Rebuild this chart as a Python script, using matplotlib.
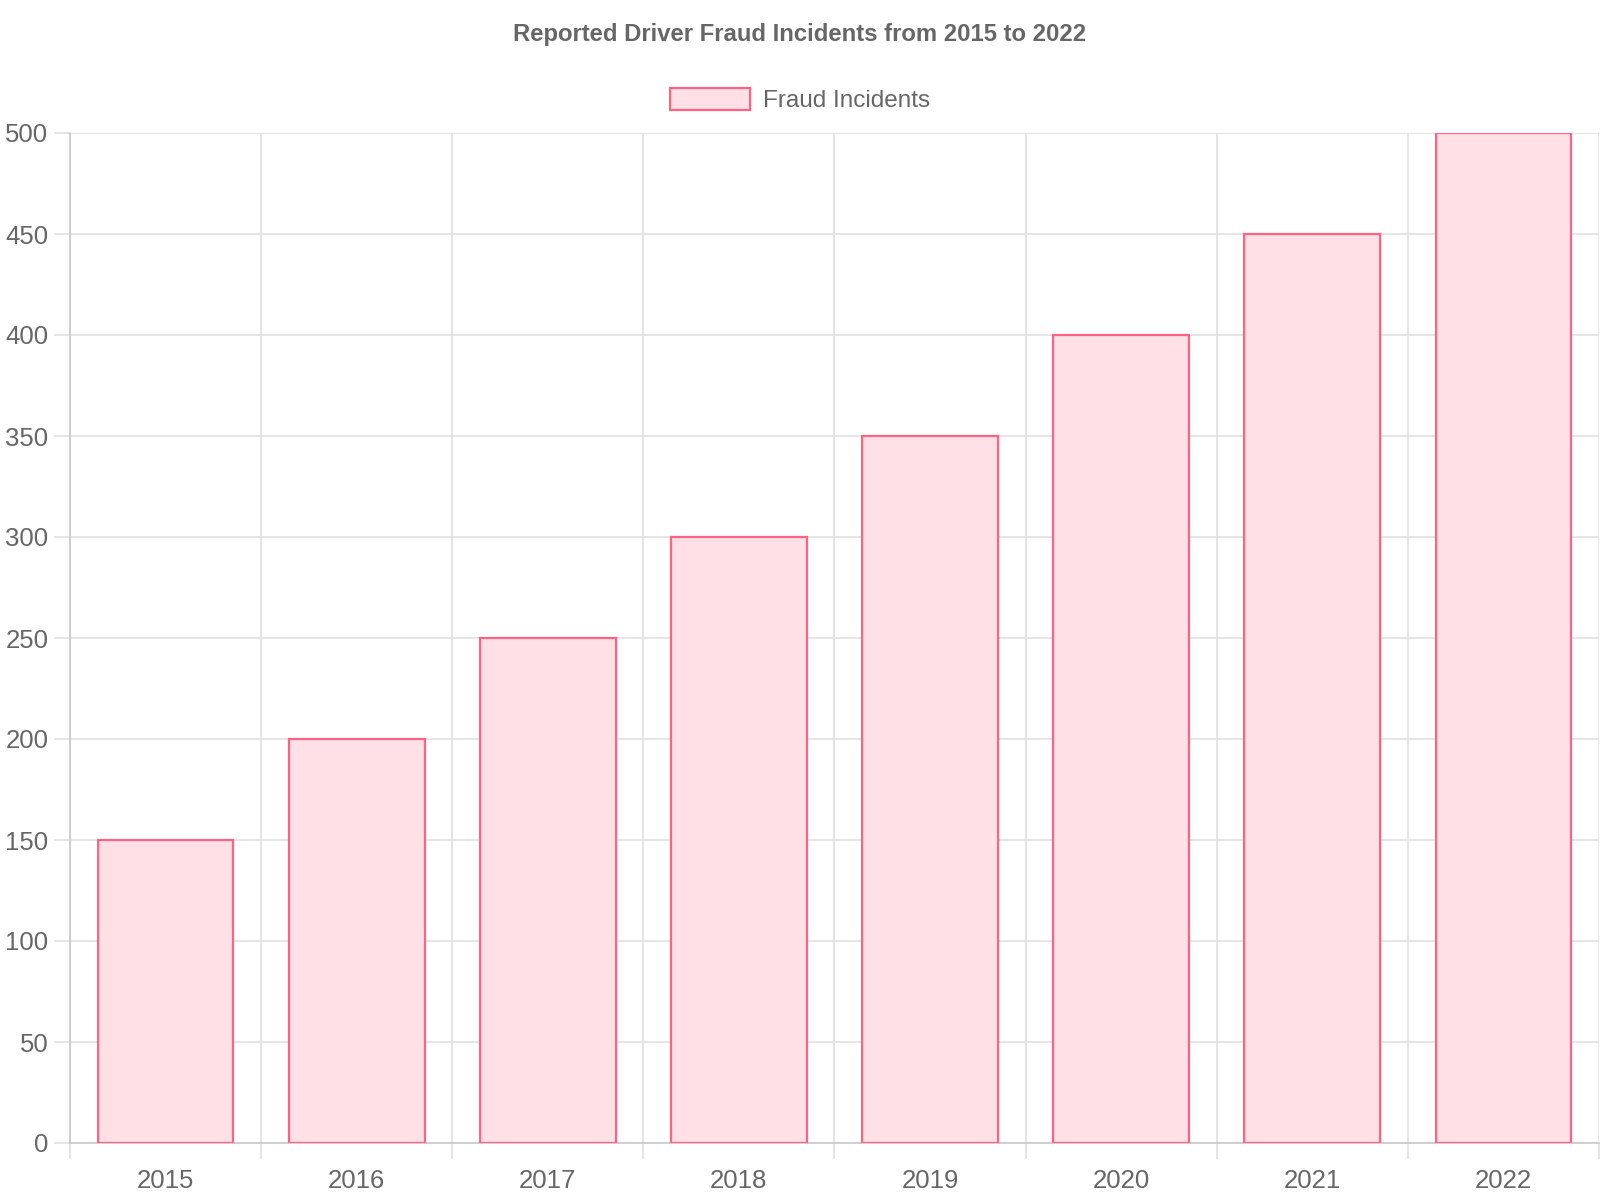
import matplotlib.pyplot as plt
from matplotlib.ticker import FixedLocator, MultipleLocator

years = ["2015", "2016", "2017", "2018", "2019", "2020", "2021", "2022"]
incidents = [150, 200, 250, 300, 350, 400, 450, 500]

plt.rcParams["font.family"] = ["Liberation Sans", "DejaVu Sans"]
text_color = "#666666"
grid_color = "#e0e0e0"
edge_color = "#ff6384"
fill_color = "#ffe0e6"

fig = plt.figure(figsize=(16, 12), dpi=100)
ax = fig.add_axes([70 / 1600, 57 / 1200, 1529 / 1600, 1010 / 1200])

x = range(len(years))
ax.bar(x, incidents, width=0.71, color=fill_color, edgecolor=edge_color,
       linewidth=1.6, label="Fraud Incidents", zorder=3)

ax.set_xlim(-0.5, len(years) - 0.5)
ax.set_ylim(0, 500)

ax.set_xticks(list(x))
ax.set_xticklabels(years)
ax.xaxis.set_minor_locator(FixedLocator([i - 0.5 for i in range(len(years) + 1)]))
ax.yaxis.set_major_locator(MultipleLocator(50))

ax.grid(True, which="minor", axis="x", color=grid_color, linewidth=1.2, zorder=0)
ax.grid(True, which="major", axis="y", color=grid_color, linewidth=1.2, zorder=0)

ax.tick_params(axis="x", which="major", length=0, pad=19, labelsize=18.5, labelcolor=text_color)
ax.tick_params(axis="x", which="minor", length=11.5, width=1.2, color=grid_color)
ax.tick_params(axis="y", length=11.5, width=1.2, color=grid_color, pad=4,
               labelsize=18.5, labelcolor=text_color)

for side in ["top", "right"]:
    ax.spines[side].set_visible(False)
for side in ["left", "bottom"]:
    ax.spines[side].set_color("#c8c8c8")
    ax.spines[side].set_linewidth(1.2)

fig.text(0.5, 1 - 35 / 1200, "Reported Driver Fraud Incidents from 2015 to 2022",
         ha="center", va="center", fontsize=17.2, fontweight="bold", color=text_color)

fig.legend(loc="center", bbox_to_anchor=(0.5, 1 - 100 / 1200), frameon=False,
           fontsize=17.5, labelcolor=text_color, handlelength=3.3, handleheight=1.0,
           handletextpad=0.5)

fig.savefig("out.png", dpi=100)
